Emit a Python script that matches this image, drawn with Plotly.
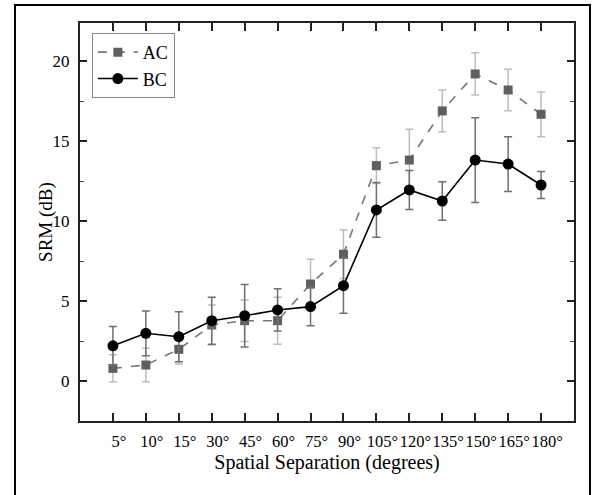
import plotly.graph_objects as go

# ---- data ----
angles = ["5°", "10°", "15°", "30°", "45°", "60°", "75°", "90°",
          "105°", "120°", "135°", "150°", "165°", "180°"]
ac_srm = [0.79, 1.0, 1.98, 3.5, 3.77, 3.77, 6.06, 7.92, 13.46, 13.81, 16.88, 19.19, 18.19, 16.67]
ac_err = [0.85, 1.05, 0.92, 1.25, 1.3, 1.47, 1.55, 1.52, 1.12, 1.92, 1.3, 1.32, 1.3, 1.4]
bc_srm = [2.2, 2.98, 2.77, 3.77, 4.08, 4.44, 4.65, 5.96, 10.69, 11.94, 11.25, 13.81, 13.56, 12.25]
bc_err = [1.2, 1.4, 1.56, 1.47, 1.95, 1.32, 1.2, 1.73, 1.71, 1.22, 1.2, 2.65, 1.71, 0.85]
y_ticks = [0, 5, 10, 15, 20]

xpos = list(range(1, len(angles) + 1))
FONT = "Liberation Serif"

fig = go.Figure()
fig.add_trace(go.Scatter(
    x=xpos, y=ac_srm, name="AC", mode="lines+markers",
    line=dict(color="#777777", width=1.6, dash="dash"),
    marker=dict(symbol="square", size=9, color="#5f5f5f"),
    error_y=dict(type="data", array=ac_err, visible=True,
                 color="#bdbdbd", thickness=1.5, width=4),
))
fig.add_trace(go.Scatter(
    x=xpos, y=bc_srm, name="BC", mode="lines+markers",
    line=dict(color="#000000", width=1.6),
    marker=dict(symbol="circle", size=11, color="#000000"),
    error_y=dict(type="data", array=bc_err, visible=True,
                 color="#707070", thickness=1.5, width=4),
))

# outer figure frame
fig.add_shape(type="rect", xref="paper", yref="paper",
              x0=-0.1316, x1=1.0324, y0=-0.25, y1=1.0452,
              line=dict(color="black", width=2), layer="below")

# y-axis title
fig.add_annotation(text="SRM (dB)", xref="paper", yref="paper",
                   x=-0.069, y=0.5, xanchor="center", yanchor="middle",
                   textangle=-90, showarrow=False,
                   font=dict(family=FONT, size=19, color="black"))

fig.update_layout(
    width=592, height=495,
    margin=dict(l=80, r=18, t=23, b=74),
    paper_bgcolor="white", plot_bgcolor="white",
    font=dict(family=FONT, color="black", size=17),
    showlegend=True,
    legend=dict(x=0.024, y=0.975, xanchor="left", yanchor="top",
                bordercolor="#888888", borderwidth=1, bgcolor="white",
                font=dict(family=FONT, size=18), tracegroupgap=0,
                itemwidth=40),
    xaxis=dict(
        range=[0, 15], tickmode="array", tickvals=xpos, ticktext=angles,
        tickangle=0, automargin=False,
        ticks="inside", ticklen=8, tickwidth=1.5, tickcolor="#222",
        ticklabelshift=6, ticklabelstandoff=4,
        showline=True, linecolor="#222", linewidth=2, mirror="ticks",
        showgrid=False, zeroline=False,
        tickfont=dict(family=FONT, size=16.5),
        title=dict(text="Spatial Separation (degrees)", font=dict(family=FONT, size=20), standoff=2),
    ),
    yaxis=dict(
        range=[-2.5, 22.375], tickmode="array", tickvals=y_ticks,
        automargin=False,
        ticks="inside", ticklen=7, tickwidth=1.5, tickcolor="#222",
        ticklabelstandoff=5,
        minor=dict(dtick=2.5, tick0=0, ticks="inside", ticklen=4, tickcolor="#444", tickwidth=1),
        showline=True, linecolor="#222", linewidth=2, mirror="ticks",
        showgrid=False, zeroline=False,
        tickfont=dict(family=FONT, size=17),
    ),
)

fig.write_html("out.html", config={"displayModeBar": False},
               post_script="document.body.style.margin='0px';")
